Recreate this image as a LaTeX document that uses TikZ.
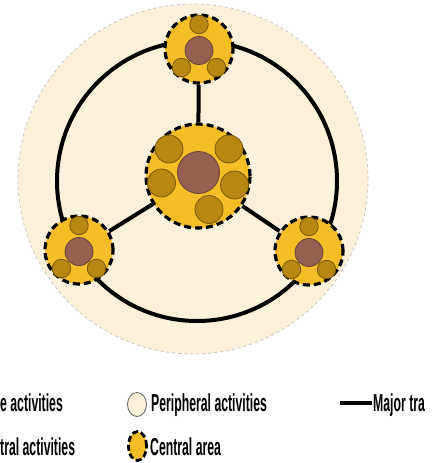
\documentclass[tikz,border=0pt]{standalone}
\usepackage{fontspec}
\setmainfont{Liberation Sans}
\usepackage{graphicx}
\usetikzlibrary{shapes.geometric}
\definecolor{cream}{HTML}{FDF1DC}
\definecolor{areagold}{HTML}{F5BD26}
\definecolor{actgold}{HTML}{B8870F}
\definecolor{corebrown}{HTML}{965F52}
\newcommand{\lgtext}[1]{\scalebox{0.5}[1]{#1}}
\tikzset{
  area/.style={circle, draw=black, line width=3.2pt, dash pattern=on 7pt off 4pt, fill=areagold, inner sep=0pt},
  core/.style={circle, draw=corebrown!70!black, fill=corebrown, line width=0.8pt, inner sep=0pt, minimum size=#1},
  cent/.style={circle, draw=actgold!65!black, fill=actgold, line width=0.8pt, inner sep=0pt, minimum size=#1},
  route/.style={line width=4pt},
  legend/.style={font=\bfseries\fontsize{24.5}{24.5}\selectfont, inner sep=0pt, anchor=base west}
}
\begin{document}
\begin{tikzpicture}[x=1pt, y=-1pt]
        \useasboundingbox (0,0) rectangle (434,463);
        \clip (0,0) rectangle (434,463);
        \fill[white] (0,0) rectangle (434,463);
        % peripheral zone and ring road
        \draw[fill=cream, draw=gray!45, dashed, line width=0.8pt] (193,179) circle (175pt);
        \draw[route] (197,181) circle (140pt);
        % central areas
        \node[area, minimum size=104pt] (CEN) at (198,176) {};
        \node[area, minimum size=68pt] (TOP) at (199,49) {};
        \node[area, minimum size=68pt] (LFT) at (79,250) {};
        \node[area, minimum size=68pt] (RGT) at (309,251) {};
        \draw[route] (CEN) -- (TOP);
        \draw[route] (CEN) -- (LFT);
        \draw[route] (CEN) -- (RGT);
        % activities in the main centre
        \node[core=42pt] (CEN-core) at (198.5,172.5) {};
        \node[cent=28pt] (CEN-a1) at (169,149) {};
        \node[cent=28pt] (CEN-a2) at (229,149) {};
        \node[cent=28pt] (CEN-a3) at (161.5,183) {};
        \node[cent=28pt] (CEN-a4) at (234.5,185) {};
        \node[cent=28pt] (CEN-a5) at (209,209.5) {};
        % activities in the sub-centres
        \foreach \n in {TOP,LFT,RGT}{
          \begin{scope}[shift={(\n.center)}]
            \node[core=28pt] (\n-core) at (0,1.5) {};
            \node[cent=18.5pt] (\n-a1) at (0,-24.5) {};
            \node[cent=18.5pt] (\n-a2) at (-17.5,18.5) {};
            \node[cent=18.5pt] (\n-a3) at (17.5,18.5) {};
          \end{scope}
        }
        % legend
        \node[legend] (CORE-t) at (0,411) {\lgtext{e activities}};
        \node[legend] (CENT-t) at (0,455) {\lgtext{tral activities}};
        \node[ellipse, draw=gray!75!black, fill=cream, line width=0.8pt, minimum width=19pt,
          minimum height=24pt, inner sep=0pt] (PER-s) at (137,404.5) {};
        \node[legend] (PER-t) at (151,411) {\lgtext{Peripheral activities}};
        \node[ellipse, draw=black, line width=2.8pt, dash pattern=on 6pt off 3pt, fill=areagold,
          minimum width=18pt, minimum height=29pt, inner sep=0pt] (AREA-s) at (137.5,446) {};
        \node[legend] (AREA-t) at (150,455) {\lgtext{Central area}};
        \coordinate (MAJ-a) at (340,403);
        \coordinate (MAJ-b) at (372,403);
        \draw[route] (MAJ-a) -- (MAJ-b);
        \node[legend] (MAJ-t) at (373,411) {\lgtext{Major tra}};
      \end{tikzpicture}
\end{document}
